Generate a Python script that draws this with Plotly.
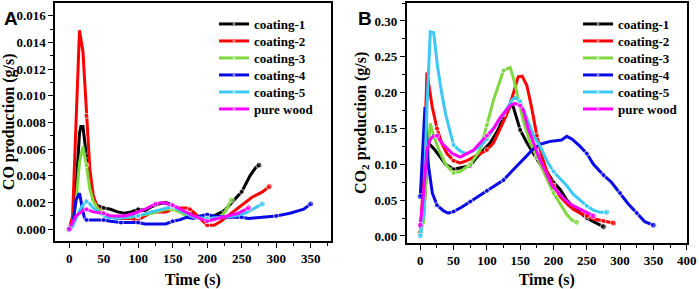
import plotly.graph_objects as go

# ---------------- Panel A: CO production ----------------
a_c1_t = [0, 5, 10, 15, 17, 20, 25, 30, 35, 40, 45, 50, 60, 70, 80, 90, 100, 110, 120, 130, 140, 150, 160, 170, 180, 190, 200, 210, 225, 240, 250, 255, 262, 270, 275]
a_c1_v = [0.0, 0.0005, 0.003, 0.0072, 0.0077, 0.0077, 0.0055, 0.0035, 0.0022, 0.0018, 0.0017, 0.0016, 0.0015, 0.0013, 0.0012, 0.0013, 0.0015, 0.0014, 0.0017, 0.0019, 0.0020, 0.0018, 0.0015, 0.0012, 0.0011, 0.0009, 0.0008, 0.0010, 0.0014, 0.0022, 0.0028, 0.0033, 0.0040, 0.0046, 0.0048]

a_c2_t = [0, 5, 10, 15, 20, 25, 30, 35, 40, 45, 55, 70, 90, 100, 110, 120, 130, 140, 150, 160, 170, 175, 180, 190, 200, 210, 220, 230, 245, 255, 265, 280, 290]
a_c2_v = [0.0, 0.001, 0.008, 0.0149, 0.0133, 0.0085, 0.0045, 0.0025, 0.0018, 0.0014, 0.0010, 0.0008, 0.0008, 0.0007, 0.0010, 0.0013, 0.0013, 0.0013, 0.0015, 0.0016, 0.0016, 0.0015, 0.0013, 0.0008, 0.0003, 0.0003, 0.0006, 0.0010, 0.0016, 0.0020, 0.0024, 0.0028, 0.0032]

a_c3_t = [0, 5, 10, 15, 20, 25, 30, 35, 42, 50, 55, 70, 90, 100, 120, 140, 150, 160, 170, 180, 200, 220, 228, 235]
a_c3_v = [0.0, 0.0005, 0.002, 0.005, 0.0062, 0.0048, 0.0030, 0.0021, 0.0015, 0.0012, 0.0010, 0.0009, 0.0009, 0.0010, 0.0012, 0.0015, 0.0015, 0.0013, 0.0010, 0.0009, 0.0008, 0.0009, 0.0015, 0.0022]

a_c4_t = [0, 5, 10, 15, 19, 22, 25, 50, 60, 75, 100, 110, 140, 150, 160, 170, 180, 190, 200, 210, 230, 250, 260, 280, 290, 300, 320, 340, 350]
a_c4_v = [0.0001, 0.0003, 0.0022, 0.0027, 0.0016, 0.0009, 0.0007, 0.0007, 0.0006, 0.0005, 0.0005, 0.0004, 0.0004, 0.0006, 0.0007, 0.0009, 0.0008, 0.0010, 0.0011, 0.0010, 0.0009, 0.0009, 0.0008, 0.0009, 0.0009, 0.0010, 0.0012, 0.0015, 0.0019]

a_c5_t = [0, 5, 10, 15, 20, 25, 30, 35, 45, 55, 70, 90, 100, 120, 140, 150, 165, 180, 200, 220, 240, 255, 265, 280]
a_c5_v = [0.0, 0.0002, 0.0008, 0.0014, 0.0018, 0.0021, 0.0019, 0.0016, 0.0012, 0.0009, 0.0008, 0.0009, 0.0010, 0.0013, 0.0016, 0.0017, 0.0013, 0.0009, 0.0008, 0.0009, 0.0010, 0.0012, 0.0015, 0.0019]

a_pw_t = [0, 5, 10, 20, 25, 35, 50, 60, 80, 95, 110, 125, 135, 150, 165, 180, 195, 200, 215, 230, 245, 260]
a_pw_v = [0.0, 0.0005, 0.0010, 0.0014, 0.0015, 0.0013, 0.0012, 0.0010, 0.0010, 0.0012, 0.0015, 0.0019, 0.0020, 0.0018, 0.0014, 0.0010, 0.0007, 0.0006, 0.0008, 0.0010, 0.0012, 0.0016]

# ---------------- Panel B: CO2 production ----------------
b_c1_t = [0, 5, 12, 22, 30, 38, 50, 60, 75, 85, 95, 105, 115, 125, 138, 143, 150, 160, 170, 180, 190, 200, 210, 220, 230, 240, 250, 260, 275]
b_c1_v = [0.005, 0.03, 0.130, 0.120, 0.110, 0.100, 0.093, 0.095, 0.098, 0.110, 0.120, 0.130, 0.145, 0.165, 0.185, 0.170, 0.148, 0.130, 0.115, 0.100, 0.090, 0.075, 0.065, 0.050, 0.040, 0.033, 0.025, 0.020, 0.013]

b_c2_t = [0, 5, 10, 12, 18, 25, 32, 40, 50, 60, 70, 80, 90, 100, 110, 120, 130, 140, 147, 153, 160, 167, 175, 183, 190, 200, 210, 220, 230, 240, 250, 260, 275, 290]
b_c2_v = [0.005, 0.08, 0.228, 0.215, 0.180, 0.150, 0.130, 0.115, 0.105, 0.102, 0.105, 0.110, 0.115, 0.120, 0.130, 0.150, 0.170, 0.200, 0.222, 0.223, 0.210, 0.180, 0.140, 0.110, 0.090, 0.070, 0.055, 0.045, 0.037, 0.032, 0.028, 0.024, 0.021, 0.018]

b_c3_t = [0, 5, 10, 15, 20, 28, 38, 50, 60, 75, 90, 100, 110, 125, 135, 140, 148, 155, 165, 175, 185, 200, 210, 220, 228, 235]
b_c3_v = [0.005, 0.02, 0.10, 0.157, 0.140, 0.120, 0.100, 0.088, 0.090, 0.100, 0.120, 0.155, 0.190, 0.231, 0.235, 0.220, 0.190, 0.160, 0.130, 0.110, 0.090, 0.060, 0.045, 0.030, 0.022, 0.019]

b_c4_t = [0, 4, 7, 12, 18, 25, 35, 42, 50, 62, 75, 88, 100, 112, 125, 137, 148, 158, 168, 180, 195, 205, 212, 220, 228, 240, 250, 260, 275, 287, 300, 312, 325, 337, 350]
b_c4_v = [0.055, 0.12, 0.180, 0.100, 0.060, 0.043, 0.035, 0.032, 0.034, 0.040, 0.048, 0.055, 0.063, 0.070, 0.078, 0.090, 0.100, 0.110, 0.120, 0.128, 0.132, 0.133, 0.134, 0.139, 0.135, 0.125, 0.115, 0.100, 0.085, 0.075, 0.060, 0.045, 0.032, 0.020, 0.015]

b_c5_t = [0, 5, 10, 15, 20, 26, 32, 38, 45, 50, 58, 65, 70, 78, 90, 100, 110, 125, 138, 142, 150, 160, 170, 180, 190, 200, 210, 220, 230, 240, 250, 260, 270, 280]
b_c5_v = [0.0, 0.03, 0.18, 0.285, 0.284, 0.236, 0.200, 0.170, 0.145, 0.127, 0.120, 0.116, 0.115, 0.118, 0.125, 0.135, 0.150, 0.170, 0.190, 0.193, 0.188, 0.165, 0.140, 0.125, 0.105, 0.090, 0.080, 0.070, 0.058, 0.050, 0.042, 0.036, 0.033, 0.033]

b_pw_t = [0, 5, 10, 15, 20, 25, 32, 40, 48, 55, 60, 70, 80, 90, 100, 110, 120, 128, 135, 142, 150, 155, 162, 170, 178, 188, 198, 208, 218, 228, 238, 248, 255, 260]
b_pw_v = [0.015, 0.06, 0.12, 0.135, 0.140, 0.140, 0.130, 0.122, 0.115, 0.112, 0.110, 0.115, 0.120, 0.130, 0.140, 0.150, 0.165, 0.175, 0.182, 0.185, 0.182, 0.175, 0.150, 0.130, 0.110, 0.090, 0.070, 0.060, 0.050, 0.043, 0.038, 0.033, 0.030, 0.028]

names = ["coating-1", "coating-2", "coating-3", "coating-4", "coating-5", "pure wood"]
colors = ["#000000", "#FF0000", "#80D840", "#0A0AE6", "#3CC8F5", "#FF00FF"]

panel_a = [(a_c1_t, a_c1_v), (a_c2_t, a_c2_v), (a_c3_t, a_c3_v), (a_c4_t, a_c4_v), (a_c5_t, a_c5_v), (a_pw_t, a_pw_v)]
panel_b = [(b_c1_t, b_c1_v), (b_c2_t, b_c2_v), (b_c3_t, b_c3_v), (b_c4_t, b_c4_v), (b_c5_t, b_c5_v), (b_pw_t, b_pw_v)]

def msizes(t):
    s = [5 if (x % 25 == 0 and x > 0) else 0 for x in t]
    s[0] = 6
    s[-1] = 6
    return s

W, H = 699, 289

fig = go.Figure()
legend_layout = {}
legend_common = dict(font=dict(family="Liberation Serif", size=13, color="black", weight="bold"),
                     bgcolor="rgba(0,0,0,0)", borderwidth=0, tracegroupgap=0,
                     itemwidth=30, xanchor="left", yanchor="top")

k = 0
for panel, (xa, ya, lx) in zip([panel_a, panel_b], [("x", "y", 214), ("x2", "y2", 578)]):
    for i, (t, v) in enumerate(panel):
        k += 1
        lname = "legend" if k == 1 else f"legend{k}"
        fig.add_trace(go.Scatter(x=t, y=v, name=names[i], mode="lines+markers",
                                 line=dict(color=colors[i], width=3),
                                 marker=dict(color=colors[i], size=msizes(t)),
                                 xaxis=xa, yaxis=ya, legend=lname, showlegend=True))
        legend_layout[lname] = dict(x=lx / W, y=1 - (9 + 17 * i) / H, visible=True, **legend_common)

tickfont = dict(family="Liberation Serif", size=13, color="black", weight="bold")
titlefont = dict(family="Liberation Serif", size=16, color="black", weight="bold")
axis_common = dict(showline=True, linecolor="black", linewidth=1.5, mirror=True,
                   ticks="outside", ticklen=5, tickwidth=1.2, tickcolor="black",
                   showgrid=False, zeroline=False, tickfont=tickfont, automargin=False)

fig.update_layout(
    width=W, height=H, margin=dict(l=0, r=0, t=0, b=0, autoexpand=False),
    paper_bgcolor="white", plot_bgcolor="white", showlegend=True,
    xaxis=dict(domain=[55/W, 330.7/W], range=[-20.5, 379], dtick=50, tick0=0,
               minor=dict(ticks="outside", ticklen=3, dtick=25, tickcolor="black"),
               title=dict(text="Time (s)", font=titlefont, standoff=8), anchor="y", **axis_common),
    yaxis=dict(domain=[1-241/H, 1-2.7/H], range=[-0.00088, 0.01697], dtick=0.002, tick0=0,
               tickformat=".3f",
               minor=dict(ticks="outside", ticklen=3, dtick=0.001, tickcolor="black"),
               title=dict(text="CO production (g/s)", font=titlefont, standoff=4), anchor="x", **axis_common),
    xaxis2=dict(domain=[406.7/W, 686.7/W], range=[-20.4, 400], dtick=50, tick0=0,
                minor=dict(ticks="outside", ticklen=3, dtick=25, tickcolor="black"),
                title=dict(text="Time (s)", font=titlefont, standoff=8), anchor="y2", **axis_common),
    yaxis2=dict(domain=[1-243/H, 1-2.7/H], range=[-0.0098, 0.3255], dtick=0.05, tick0=0,
                tickformat=".2f",
                minor=dict(ticks="outside", ticklen=3, dtick=0.025, tickcolor="black"),
                title=dict(text="CO<sub>2</sub> production (g/s)", font=titlefont, standoff=4), anchor="x2", **axis_common),
    annotations=[
        dict(text="A", x=2/W, y=1-6/H, xref="paper", yref="paper", xanchor="left", yanchor="top",
             showarrow=False, font=dict(family="Liberation Sans", size=19, color="black", weight="bold")),
        dict(text="B", x=356/W, y=1-6/H, xref="paper", yref="paper", xanchor="left", yanchor="top",
             showarrow=False, font=dict(family="Liberation Sans", size=19, color="black", weight="bold")),
    ],
    **legend_layout,
)

fig.write_html("out.html", config={"displayModeBar": False},
               post_script="document.body.style.margin='0';document.body.style.padding='0';")
